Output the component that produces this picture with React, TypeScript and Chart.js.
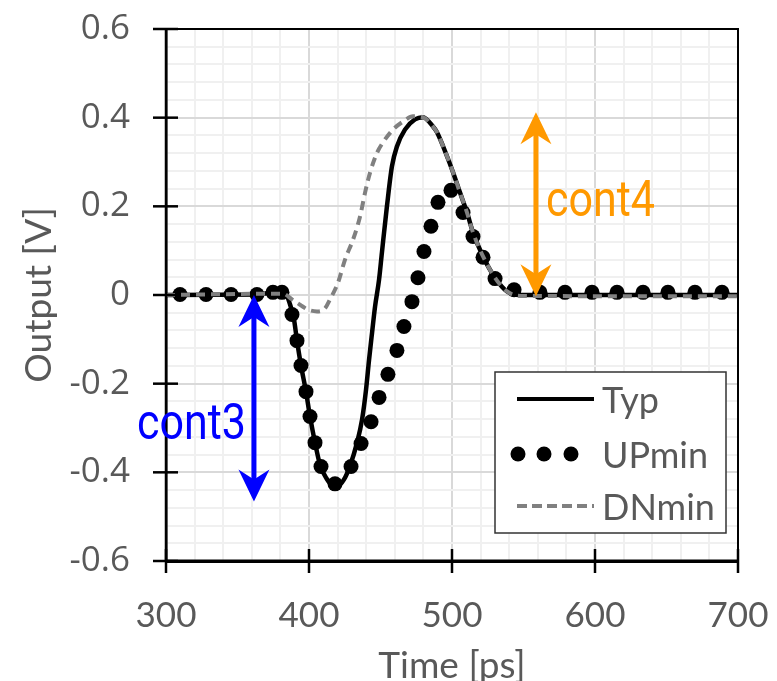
import { useEffect, useRef } from 'react';
import { Chart, registerables } from 'chart.js';

Chart.register(...registerables);

// ---------- data ----------
const xTickLabels = ['300', '400', '500', '600', '700'];
const yTickLabels = ['-0.6', '-0.4', '-0.2', '0', '0.2', '0.4', '0.6'];

const typTime = [300, 365.7, 372.7, 379.7, 383.2, 386.7, 389.5, 391.6, 394.4, 397.9, 400.7, 404.2, 407.7, 411.9, 416.8, 420.3, 424.5, 428.7, 433.6, 437.1, 439.9, 442.0, 444.1, 446.2, 449.0, 451.0, 454.5, 458.0, 461.5, 467.1, 474.1, 479.7, 486.7, 489.5, 496.5, 500.7, 505.6, 510.5, 514.7, 521.7, 530.1, 538.5, 547.6, 700];
const typVolt = [0, 0.001, 0.006, 0.008, 0.006, -0.021, -0.055, -0.103, -0.159, -0.218, -0.274, -0.333, -0.383, -0.412, -0.43, -0.43, -0.416, -0.385, -0.333, -0.281, -0.213, -0.146, -0.085, -0.026, 0.035, 0.096, 0.2, 0.29, 0.335, 0.373, 0.396, 0.401, 0.38, 0.367, 0.313, 0.277, 0.231, 0.186, 0.141, 0.087, 0.039, 0.008, 0, 0];

const upTime = [309.8, 328.0, 345.5, 363.6, 374.8, 381.1, 388.1, 391.6, 394.4, 397.9, 400.7, 404.2, 408.4, 418.2, 429.4, 436.4, 443.4, 449.0, 455.2, 461.5, 466.4, 472.0, 476.2, 480.4, 485.3, 490.2, 499.3, 507.7, 514.7, 521.7, 530.1, 543.4, 561.5, 579.0, 597.9, 615.4, 633.6, 651.0, 669.9, 688.8];
const upVolt = [0.001, 0.001, 0.001, 0.001, 0.006, 0.006, -0.044, -0.103, -0.159, -0.218, -0.274, -0.333, -0.387, -0.426, -0.387, -0.335, -0.286, -0.231, -0.179, -0.125, -0.071, -0.015, 0.039, 0.098, 0.155, 0.209, 0.236, 0.186, 0.132, 0.085, 0.037, 0.012, 0.006, 0.006, 0.006, 0.006, 0.006, 0.006, 0.006, 0.006];

const dnTime = [300, 381.8, 388.1, 393.7, 399.3, 405.6, 411.2, 414.7, 420.3, 425.2, 430.8, 435.7, 439.2, 442.7, 447.6, 451.7, 458.7, 465.7, 472.7, 479.7, 486.7, 489.5, 496.5, 500.7, 505.6, 510.5, 514.7, 521.7, 530.1, 538.5, 547.6, 700];
const dnVolt = [0, 0.003, -0.01, -0.022, -0.033, -0.037, -0.03, -0.01, 0.028, 0.08, 0.125, 0.177, 0.231, 0.276, 0.321, 0.344, 0.373, 0.391, 0.403, 0.401, 0.38, 0.367, 0.313, 0.277, 0.231, 0.186, 0.141, 0.087, 0.039, 0.008, -0.002, -0.003];

const seriesNames = ['Typ', 'UPmin', 'DNmin'];

// annotation arrows: [time, voltFrom, voltTo], label text + anchor (time, volt)
const cont3Arrow = [361.5, 0, -0.466];
const cont4Arrow = [558.7, 0.412, -0.003];
const cont3Label = { text: 'cont3', t: 279.7, v: -0.325 };
const cont4Label = { text: 'cont4', t: 565.7, v: 0.178 };

const pts = (xs: number[], ys: number[]) => xs.map((x, i) => ({ x, y: ys[i] }));

const GRAY_TEXT = '#595959';
const BLUE = '#0000FF';
const ORANGE = '#FF9900';

function isMajor(v: number, step: number) {
  const r = v / step;
  return Math.abs(r - Math.round(r)) < 1e-6;
}

function drawArrow(ctx: CanvasRenderingContext2D, x: number, yTop: number, yBot: number, color: string) {
  const headLen = 32;
  const notch = 22;
  const half = 15.5;
  ctx.save();
  ctx.strokeStyle = color;
  ctx.fillStyle = color;
  ctx.lineWidth = 5;
  ctx.beginPath();
  ctx.moveTo(x, yTop + notch - 2);
  ctx.lineTo(x, yBot - notch + 2);
  ctx.stroke();
  ctx.beginPath();
  ctx.moveTo(x, yTop);
  ctx.lineTo(x + half, yTop + headLen);
  ctx.lineTo(x, yTop + notch);
  ctx.lineTo(x - half, yTop + headLen);
  ctx.closePath();
  ctx.fill();
  ctx.beginPath();
  ctx.moveTo(x, yBot);
  ctx.lineTo(x + half, yBot - headLen);
  ctx.lineTo(x, yBot - notch);
  ctx.lineTo(x - half, yBot - headLen);
  ctx.closePath();
  ctx.fill();
  ctx.restore();
}

function drawCondensed(ctx: CanvasRenderingContext2D, text: string, x: number, y: number, color: string) {
  ctx.save();
  ctx.fillStyle = color;
  ctx.font = '50px Roboto';
  ctx.textBaseline = 'alphabetic';
  ctx.textAlign = 'left';
  ctx.translate(x, y);
  ctx.scale(0.86, 1);
  ctx.fillText(text, 0, 0);
  ctx.restore();
}

const overlayPlugin = {
  id: 'overlay',
  afterDatasetsDraw(chart: any) {
    const { ctx, chartArea } = chart;
    const xs = chart.scales.x;
    const ys = chart.scales.y;
    const { left, right, top, bottom } = chartArea;

    ctx.save();
    ctx.strokeStyle = '#000';
    ctx.lineWidth = 2;
    ctx.beginPath();
    ctx.moveTo(left, top);
    ctx.lineTo(right, top);
    ctx.lineTo(right, bottom);
    ctx.stroke();
    ctx.lineWidth = 2.5;
    ctx.beginPath();
    ctx.moveTo(left, top);
    ctx.lineTo(left, bottom);
    ctx.stroke();
    ctx.lineWidth = 3;
    ctx.beginPath();
    ctx.moveTo(left - 1, bottom);
    ctx.lineTo(right + 1, bottom);
    ctx.stroke();

    ctx.lineWidth = 2.5;
    xTickLabels.forEach((l) => {
      const px = xs.getPixelForValue(Number(l));
      ctx.beginPath();
      ctx.moveTo(px, bottom - 12);
      ctx.lineTo(px, bottom + 12);
      ctx.stroke();
    });
    yTickLabels.forEach((l) => {
      const py = ys.getPixelForValue(Number(l));
      ctx.beginPath();
      ctx.moveTo(left - 13, py);
      ctx.lineTo(left + 12, py);
      ctx.stroke();
    });

    // legend box
    const lx0 = right - 243;
    const ly0 = bottom - 189;
    const lw = 231;
    const lh = 161;
    ctx.fillStyle = '#fff';
    ctx.fillRect(lx0, ly0, lw, lh);
    ctx.strokeStyle = '#333';
    ctx.lineWidth = 1.5;
    ctx.strokeRect(lx0, ly0, lw, lh);

    const sx0 = lx0 + 22;
    const sx1 = lx0 + 99;
    const tx = lx0 + 107;
    const rowY = [ly0 + 27, ly0 + 82, ly0 + 134];

    ctx.strokeStyle = '#000';
    ctx.lineWidth = 4;
    ctx.beginPath();
    ctx.moveTo(sx0, rowY[0]);
    ctx.lineTo(sx1, rowY[0]);
    ctx.stroke();
    ctx.fillStyle = '#000';
    [sx0 + 1, sx0 + 27, sx0 + 54].forEach((cx) => {
      ctx.beginPath();
      ctx.arc(cx, rowY[1], 7.5, 0, Math.PI * 2);
      ctx.fill();
    });
    ctx.strokeStyle = '#808080';
    ctx.lineWidth = 4;
    ctx.setLineDash([10, 5]);
    ctx.beginPath();
    ctx.moveTo(sx0, rowY[2]);
    ctx.lineTo(sx1, rowY[2]);
    ctx.stroke();
    ctx.setLineDash([]);

    ctx.fillStyle = GRAY_TEXT;
    ctx.font = '36px Lato';
    ctx.textBaseline = 'middle';
    ctx.textAlign = 'left';
    seriesNames.forEach((n, i) => ctx.fillText(n, tx, rowY[i] + 2));

    drawArrow(ctx, xs.getPixelForValue(cont3Arrow[0]), ys.getPixelForValue(cont3Arrow[1]), ys.getPixelForValue(cont3Arrow[2]), BLUE);
    drawArrow(ctx, xs.getPixelForValue(cont4Arrow[0]), ys.getPixelForValue(cont4Arrow[1]), ys.getPixelForValue(cont4Arrow[2]), ORANGE);
    drawCondensed(ctx, cont3Label.text, xs.getPixelForValue(cont3Label.t), ys.getPixelForValue(cont3Label.v), BLUE);
    drawCondensed(ctx, cont4Label.text, xs.getPixelForValue(cont4Label.t), ys.getPixelForValue(cont4Label.v), ORANGE);

    ctx.restore();
  },
};

export default function App() {
  const ref = useRef<HTMLCanvasElement | null>(null);

  useEffect(() => {
    const canvas = ref.current;
    if (!canvas) return;
    const chart = new Chart(canvas, {
      type: 'scatter',
      data: {
        datasets: [
          {
            label: seriesNames[0],
            data: pts(typTime, typVolt),
            showLine: true,
            borderColor: '#000',
            backgroundColor: '#000',
            borderWidth: 4.5,
            pointRadius: 0,
            cubicInterpolationMode: 'monotone',
            order: 3,
          },
          {
            label: seriesNames[1],
            data: pts(upTime, upVolt),
            showLine: false,
            borderColor: '#000',
            backgroundColor: '#000',
            pointBackgroundColor: '#000',
            pointBorderWidth: 0,
            pointRadius: 7.5,
            order: 2,
          },
          {
            label: seriesNames[2],
            data: pts(dnTime, dnVolt),
            showLine: true,
            borderColor: '#808080',
            backgroundColor: '#808080',
            borderWidth: 4,
            borderDash: [9, 6],
            pointRadius: 0,
            cubicInterpolationMode: 'monotone',
            order: 1,
          },
        ] as any,
      },
      options: {
        animation: false,
        responsive: false,
        devicePixelRatio: 1,
        events: [],
        layout: { padding: { top: 29, right: 39, left: 0, bottom: 0 } },
        plugins: { legend: { display: false }, tooltip: { enabled: false } },
        scales: {
          x: {
            type: 'linear',
            position: 'bottom',
            min: 300,
            max: 700,
            afterFit: (s: any) => {
              s.height = 120;
              s.paddingLeft = 0;
              s.paddingRight = 0;
            },
            ticks: {
              stepSize: 20,
              autoSkip: false,
              maxTicksLimit: 1000,
              maxRotation: 0,
              minRotation: 0,
              padding: 34,
              color: GRAY_TEXT,
              font: { family: 'Lato', size: 35 },
              callback: (v: any) => xTickLabels.find((l) => Math.abs(Number(l) - Number(v)) < 1e-6) ?? '',
            },
            grid: {
              drawTicks: false,
              lineWidth: 2,
              color: (c: any) => (isMajor(c.tick?.value ?? 0, 100) ? '#D9D9D9' : '#F0F0F0'),
            },
            border: { display: true, color: '#000', width: 3 },
            title: {
              display: true,
              text: 'Time [ps]',
              color: GRAY_TEXT,
              font: { family: 'Lato', size: 37 },
              padding: { top: 0, bottom: -7 },
            },
          },
          y: {
            type: 'linear',
            position: 'left',
            min: -0.6,
            max: 0.6,
            afterFit: (s: any) => {
              s.width = 166;
              s.paddingTop = 0;
              s.paddingBottom = 0;
            },
            ticks: {
              stepSize: 0.04,
              autoSkip: false,
              maxTicksLimit: 1000,
              padding: 36,
              color: GRAY_TEXT,
              font: { family: 'Open Sans', size: 35 },
              callback: (v: any) => yTickLabels.find((l) => Math.abs(Number(l) - Number(v)) < 1e-6) ?? '',
            },
            grid: {
              drawTicks: false,
              lineWidth: 2,
              color: (c: any) => (isMajor(c.tick?.value ?? 0, 0.2) ? '#D9D9D9' : '#F0F0F0'),
            },
            border: { display: true, color: '#000', width: 2.5 },
            title: {
              display: true,
              text: 'Output [V]',
              color: GRAY_TEXT,
              font: { family: 'Lato', size: 37 },
              padding: { top: 17, bottom: 0 },
            },
          },
        },
      } as any,
      plugins: [overlayPlugin],
    });

    const fonts = ['35px Lato', '37px Lato', '35px "Open Sans"', '50px Roboto'];
    if ((document as any).fonts) {
      Promise.all(fonts.map((f) => (document as any).fonts.load(f)))
        .then(() => chart.update())
        .catch(() => {});
    }

    return () => chart.destroy();
  }, []);

  return (
    <div style={{ position: 'fixed', left: 0, top: 0, width: 777, height: 681, overflow: 'hidden', background: '#fff' }}>
      <canvas ref={ref} width={777} height={681} style={{ display: 'block' }} />
    </div>
  );
}
